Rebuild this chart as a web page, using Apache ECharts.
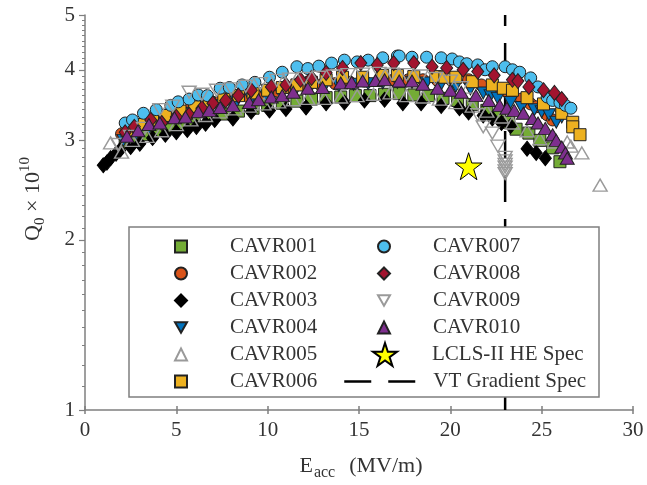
<!DOCTYPE html>
<html>
<head>
<meta charset="utf-8">
<script src="https://cdn.jsdelivr.net/npm/echarts@6/dist/echarts.min.js"></script>
<style>
html,body{margin:0;padding:0;background:#fff;}
#chart{width:647px;height:485px;}
</style>
</head>
<body>
<div id="chart"></div>
<script>
// ---- Data (E_acc in MV/m, Q0 in units of 1e10) ----
const cavr001_E = [2.2, 2.8, 3.4, 4.0, 4.6, 5.3, 6.0, 6.8, 7.6, 8.4, 9.2, 10.0, 10.8, 11.6, 12.4, 13.2, 14.0, 14.8, 15.6, 16.4, 17.2, 18.0, 18.8, 19.6, 20.4, 21.2, 22.0, 22.7, 23.2, 23.6, 24.3, 24.9, 25.6, 26.0];
const cavr001_Q = [2.97, 3.02, 3.07, 3.12, 3.16, 3.2, 3.25, 3.3, 3.34, 3.38, 3.42, 3.46, 3.49, 3.52, 3.55, 3.57, 3.58, 3.6, 3.6, 3.62, 3.63, 3.61, 3.6, 3.56, 3.53, 3.47, 3.39, 3.3, 3.23, 3.14, 3.09, 3.0, 2.91, 2.75];

const cavr002_E = [2.0, 2.7, 3.4, 4.1, 4.9, 5.7, 6.5, 7.3, 8.1, 8.9, 9.7, 10.5, 11.3, 12.1, 12.9, 13.7, 14.5, 15.3, 16.1, 16.9, 17.7, 18.5, 19.3, 20.1, 21.0, 21.7, 22.5, 23.2, 23.9, 24.4, 24.7, 25.3, 25.6];
const cavr002_Q = [3.08, 3.15, 3.22, 3.28, 3.34, 3.4, 3.45, 3.5, 3.55, 3.59, 3.63, 3.67, 3.7, 3.73, 3.76, 3.78, 3.8, 3.82, 3.83, 3.84, 3.84, 3.84, 3.83, 3.82, 3.84, 3.76, 3.7, 3.63, 3.55, 3.48, 3.44, 3.33, 3.26];

const cavr003_E = [1.0, 1.2, 1.4, 1.7, 1.9, 2.5, 3.0, 3.7, 4.4, 5.0, 5.6, 6.1, 6.6, 7.1, 8.1, 9.1, 10.1, 11.0, 12.1, 13.2, 14.2, 15.3, 16.4, 17.4, 18.4, 19.5, 20.5, 21.0, 21.8, 22.3, 22.8, 23.3, 24.2, 24.7, 25.2];
const cavr003_Q = [2.71, 2.74, 2.79, 2.84, 2.88, 2.92, 2.96, 3.03, 3.07, 3.1, 3.13, 3.17, 3.21, 3.26, 3.28, 3.37, 3.39, 3.41, 3.43, 3.49, 3.5, 3.53, 3.54, 3.49, 3.49, 3.45, 3.42, 3.36, 3.32, 3.28, 3.22, 3.18, 2.9, 2.85, 2.79];

const cavr004_E = [2.1, 2.8, 3.5, 4.3, 5.1, 5.9, 6.7, 7.5, 8.3, 9.1, 9.9, 10.7, 11.5, 12.3, 13.1, 13.9, 14.7, 15.5, 16.3, 17.1, 17.9, 18.7, 19.5, 20.3, 21.1, 21.8, 22.2, 22.6, 23.3, 23.9, 24.6, 25.0, 25.4, 25.8, 26.1];
const cavr004_Q = [3.0, 3.08, 3.15, 3.22, 3.29, 3.35, 3.41, 3.46, 3.51, 3.55, 3.6, 3.64, 3.67, 3.7, 3.73, 3.75, 3.77, 3.78, 3.79, 3.8, 3.8, 3.79, 3.77, 3.74, 3.7, 3.64, 3.6, 3.56, 3.5, 3.43, 3.4, 3.37, 3.33, 3.23, 3.3];

const cavr005_E = [1.4, 2.0, 2.6, 3.4, 4.2, 5.0, 5.8, 6.6, 7.4, 8.2, 9.0, 9.8, 10.6, 11.4, 12.2, 13.1, 14.0, 14.9, 15.8, 16.7, 17.6, 18.5, 19.4, 20.3, 21.2, 22.0, 22.8, 23.4, 24.2, 24.9, 25.7, 26.4, 26.6, 27.2, 28.2];
const cavr005_Q = [2.97, 2.86, 3.0, 3.05, 3.12, 3.2, 3.26, 3.32, 3.37, 3.41, 3.45, 3.48, 3.51, 3.54, 3.56, 3.56, 3.58, 3.6, 3.62, 3.64, 3.6, 3.58, 3.55, 3.5, 3.45, 3.38, 3.3, 3.22, 3.12, 3.02, 2.98, 2.98, 2.93, 2.85, 2.5];

const cavr006_E = [2.3, 3.0, 3.7, 4.4, 5.2, 6.0, 6.8, 7.6, 8.4, 9.2, 10.0, 10.8, 11.6, 12.4, 13.2, 14.1, 15.2, 16.3, 17.1, 18.0, 19.2, 19.7, 20.3, 21.2, 22.3, 22.9, 23.4, 24.2, 25.1, 26.1, 26.7, 26.7, 27.1];
const cavr006_Q = [3.12, 3.2, 3.26, 3.32, 3.38, 3.44, 3.5, 3.55, 3.6, 3.64, 3.68, 3.72, 3.76, 3.8, 3.84, 3.88, 3.88, 3.91, 3.91, 3.89, 3.89, 3.88, 3.88, 3.81, 3.76, 3.71, 3.68, 3.57, 3.48, 3.35, 3.23, 3.17, 3.07];

const cavr007_E = [2.2, 2.6, 3.2, 3.9, 4.7, 5.1, 5.7, 6.2, 6.7, 7.4, 7.9, 8.6, 9.3, 10.1, 10.8, 11.6, 12.2, 12.8, 13.5, 14.2, 14.9, 15.5, 16.3, 17.1, 17.2, 17.9, 18.7, 19.5, 20.1, 20.5, 20.9, 21.5, 21.9, 22.3, 23.0, 23.4, 23.8, 24.4, 24.8, 25.3, 25.6, 26.0, 26.3, 26.6];
const cavr007_Q = [3.22, 3.26, 3.35, 3.4, 3.46, 3.51, 3.55, 3.61, 3.6, 3.71, 3.72, 3.76, 3.8, 3.88, 3.96, 4.05, 4.02, 4.06, 4.11, 4.16, 4.13, 4.16, 4.2, 4.23, 4.23, 4.21, 4.21, 4.2, 4.18, 4.13, 4.1, 4.08, 4.0, 4.05, 4.05, 4.0, 3.96, 3.87, 3.73, 3.58, 3.53, 3.5, 3.46, 3.42];

const cavr008_E = [2.2, 2.7, 3.6, 4.2, 5.0, 5.7, 6.4, 7.0, 7.7, 8.4, 9.1, 10.2, 11.0, 11.8, 12.4, 13.2, 14.1, 15.1, 16.0, 16.9, 18.0, 19.0, 19.8, 20.7, 21.5, 22.4, 23.4, 23.7, 24.3, 25.1, 25.7, 26.1];
const cavr008_Q = [3.1, 3.17, 3.26, 3.22, 3.3, 3.33, 3.42, 3.49, 3.53, 3.6, 3.68, 3.73, 3.76, 3.84, 3.87, 3.95, 4.03, 4.11, 4.08, 4.11, 4.11, 4.05, 4.03, 4.0, 3.97, 3.91, 3.84, 3.82, 3.73, 3.68, 3.64, 3.55];

const cavr009_E = [1.8, 2.5, 3.2, 4.1, 4.8, 5.7, 6.4, 7.2, 8.0, 8.8, 9.6, 10.5, 11.2, 12.0, 12.8, 13.6, 14.4, 15.2, 16.1, 16.8, 17.6, 18.4, 19.2, 20.0, 20.6, 21.1, 21.5, 21.8, 22.3, 22.6, 23.0, 23.0, 23.0, 23.0, 23.0, 23.0];
const cavr009_Q = [2.95, 3.05, 3.15, 3.4, 3.45, 3.65, 3.62, 3.68, 3.7, 3.74, 3.78, 3.83, 3.85, 3.86, 3.88, 3.9, 3.92, 3.93, 3.94, 3.93, 3.92, 3.9, 3.86, 3.82, 3.72, 3.55, 3.33, 3.17, 3.09, 2.93, 2.8, 2.76, 2.72, 2.69, 2.65, 2.62];

const cavr010_E = [2.3, 2.9, 3.5, 4.1, 4.9, 5.5, 6.2, 6.8, 7.4, 8.1, 9.0, 9.5, 10.2, 10.8, 11.4, 12.2, 13.0, 14.0, 14.6, 15.2, 15.9, 16.4, 17.2, 17.9, 18.5, 19.3, 20.0, 20.6, 21.4, 22.1, 22.7, 23.1, 23.5, 24.0, 24.5, 24.8, 25.2, 25.6, 25.8, 26.1, 26.3, 26.4];
const cavr010_Q = [3.05, 3.12, 3.2, 3.22, 3.29, 3.3, 3.37, 3.39, 3.43, 3.46, 3.5, 3.54, 3.58, 3.6, 3.65, 3.71, 3.72, 3.79, 3.8, 3.82, 3.83, 3.84, 3.82, 3.82, 3.77, 3.71, 3.68, 3.65, 3.6, 3.53, 3.46, 3.42, 3.39, 3.35, 3.28, 3.22, 3.15, 3.07, 3.0, 2.92, 2.85, 2.79];

const specHE_E = [21];
const specHE_Q = [2.7];

const vtSpec_E = [23, 23];
const vtSpec_Q = [5, 1];

const xTickLabels = [0, 5, 10, 15, 20, 25, 30];
const yTickLabels = [1, 2, 3, 4, 5];
const yMinorTicks = [];
for (let i = 10; i <= 50; i++) yMinorTicks.push(i / 10);

const names = ['CAVR001','CAVR002','CAVR003','CAVR004','CAVR005','CAVR006','CAVR007','CAVR008','CAVR009','CAVR010','LCLS-II HE Spec','VT Gradient Spec'];

// ---- Build ----
const zip = (xs, ys) => xs.map((x, i) => [x, ys[i]]);
const FONT = "'Liberation Serif','Times New Roman',serif";
const TXT = '#333';
const AX = '#7f7f7f';
const downTri = 'path://M0,0L10,0L5,8.66Z';
const edge = '#222';

function sc(name, E, Q, symbol, size, fill, border, bw) {
  return {
    name: name, type: 'scatter', data: zip(E, Q),
    symbol: symbol, symbolSize: size,
    itemStyle: { color: fill, borderColor: border, borderWidth: bw, opacity: 1 },
    emphasis: { disabled: true }
  };
}

const series = [
  sc(names[0], cavr001_E, cavr001_Q, 'rect', 12, '#74AC36', edge, 1),
  sc(names[1], cavr002_E, cavr002_Q, 'circle', 12, '#D95319', edge, 1),
  sc(names[2], cavr003_E, cavr003_Q, 'diamond', [12, 15], '#000000', '#000', 1),
  sc(names[3], cavr004_E, cavr004_Q, downTri, [13, 12], '#0072BD', edge, 1),
  sc(names[4], cavr005_E, cavr005_Q, 'triangle', [14, 12], 'rgba(255,255,255,0)', '#9a9a9a', 1.4),
  sc(names[5], cavr006_E, cavr006_Q, 'rect', 12, '#EDB120', edge, 1),
  sc(names[6], cavr007_E, cavr007_Q, 'circle', 12, '#4DBEEE', edge, 1),
  sc(names[7], cavr008_E, cavr008_Q, 'diamond', [12, 15], '#A2142F', edge, 1),
  sc(names[8], cavr009_E, cavr009_Q, downTri, [14, 12], 'rgba(255,255,255,0)', '#9a9a9a', 1.4),
  sc(names[9], cavr010_E, cavr010_Q, 'triangle', [14, 12], '#7E2F8E', edge, 1),
  sc(names[10], specHE_E, specHE_Q, 'path://M50,0L61.2,34.5L97.6,34.5L68.2,55.9L79.4,90.5L50,69.1L20.6,90.5L31.8,55.9L2.4,34.5L38.8,34.5Z', 27, '#FFFF00', '#000', 1),
  {
    name: names[11], type: 'line', data: zip(vtSpec_E, vtSpec_Q),
    symbol: 'none', z: 2,
    itemStyle: { color: '#000' },
    lineStyle: { color: '#000', width: 2.5, type: [27, 17], dashOffset: 16 },
    emphasis: { disabled: true }
  }
];

const legendText = {
  fontFamily: FONT, fontSize: 21, color: TXT, lineHeight: 21,
  rich: { g: { width: 38 }, h: { width: 13 } }
};

const option = {
  animation: false,
  backgroundColor: '#fff',
  grid: { left: 85, right: 14, top: 15, bottom: 75, containLabel: false },
  xAxis: [{
    type: 'value', min: 0, max: 30, interval: 5,
    axisLine: { show: true, onZero: false, lineStyle: { color: AX, width: 1.5 } },
    axisTick: { show: true, length: 4, lineStyle: { color: AX, width: 1.5 }, customValues: xTickLabels },
    axisLabel: { fontFamily: FONT, fontSize: 21, color: TXT, margin: 10, customValues: xTickLabels },
    splitLine: { show: false }
  }, {
    type: 'value', min: 0, max: 30, interval: 5, position: 'bottom', gridIndex: 0,
    axisLine: { show: false },
    axisTick: { show: true, inside: true, length: 4, lineStyle: { color: AX, width: 1.5 } },
    axisLabel: { show: false },
    splitLine: { show: false }
  }],
  yAxis: [{
    type: 'log', logBase: 10, min: 1, max: 5,
    axisLine: { show: true, onZero: false, lineStyle: { color: AX, width: 1.5 } },
    axisTick: { show: true, length: 6, customValues: yTickLabels, lineStyle: { color: AX, width: 1.2 } },
    axisLabel: { fontFamily: FONT, fontSize: 21, color: TXT, margin: 10, customValues: yTickLabels },
    splitLine: { show: false }
  }, {
    type: 'log', logBase: 10, min: 1, max: 5, position: 'left', gridIndex: 0,
    axisLine: { show: false },
    axisTick: { show: true, length: 3, customValues: yMinorTicks, lineStyle: { color: AX, width: 1 } },
    axisLabel: { show: false },
    splitLine: { show: false }
  }],
  legend: [{
    data: names.slice(0, 6), orient: 'vertical', left: 174, top: 236,
    itemWidth: 12, itemHeight: 12, itemGap: 6, padding: 0,
    formatter: n => '{g|}' + n, textStyle: legendText, selectedMode: false
  }, {
    data: names.slice(6, 10), orient: 'vertical', left: 377, top: 236,
    itemWidth: 12, itemHeight: 12, itemGap: 6, padding: 0,
    formatter: n => '{g|}' + n, textStyle: legendText, selectedMode: false
  }, {
    data: [names[10]], orient: 'vertical', left: 372, top: 342,
    itemWidth: 24, itemHeight: 23, padding: 0,
    formatter: n => '{h|}' + n, textStyle: Object.assign({}, legendText, { rich: { h: { width: 30 } } }), selectedMode: false
  }, {
    data: [names[11]], orient: 'vertical', left: 343, top: 371,
    itemWidth: 71, itemHeight: 21, padding: 0,
    itemStyle: { opacity: 0 },
    lineStyle: { color: '#000', width: 2.5, type: [27, 17], dashOffset: 0, opacity: 1 },
    formatter: n => '{h|}' + n, textStyle: legendText, selectedMode: false
  }],
  graphic: [{
    type: 'rect', z: 3, silent: true,
    shape: { x: 129, y: 227, width: 470, height: 170 },
    style: { fill: '#fff', stroke: '#7f7f7f', lineWidth: 1.5 }
  }, {
    type: 'text', z: 5, silent: true,
    x: 361, y: 466,
    style: {
      text: '{a|E}{s|acc}{a|(MV/m)}',
      align: 'center', verticalAlign: 'middle',
      fill: TXT,
      rich: {
        a: { fontFamily: FONT, fontSize: 22, fill: TXT, lineHeight: 30, verticalAlign: 'middle' },
        s: { fontFamily: FONT, fontSize: 16, fill: TXT, lineHeight: 16, verticalAlign: 'bottom', padding: [0, 14, 0, 1] }
      }
    }
  }, {
    type: 'text', z: 5, silent: true,
    x: 33, y: 199, rotation: Math.PI / 2,
    style: {
      text: '{a|Q}{s|0}{a| × 10}{p|10}',
      align: 'center', verticalAlign: 'middle',
      fill: TXT,
      rich: {
        a: { fontFamily: FONT, fontSize: 22, fill: TXT, lineHeight: 30, verticalAlign: 'middle' },
        s: { fontFamily: FONT, fontSize: 15, fill: TXT, lineHeight: 16, verticalAlign: 'bottom' },
        p: { fontFamily: FONT, fontSize: 15, fill: TXT, lineHeight: 16, verticalAlign: 'top' }
      }
    }
  }],
  series: series
};

const chart = echarts.init(document.getElementById('chart'), null, { renderer: 'canvas' });
chart.setOption(option);
</script>
</body>
</html>
